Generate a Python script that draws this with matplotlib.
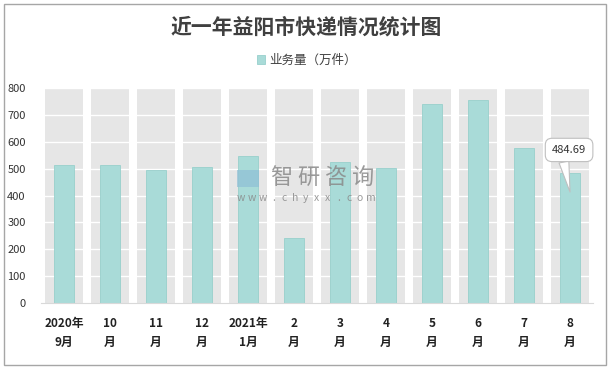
import matplotlib.pyplot as plt
from matplotlib.patches import Rectangle

plt.rcParams['font.family'] = ['Noto Sans CJK SC', 'DejaVu Sans']

months = ['2020年\n9月', '10\n月', '11\n月', '12\n月', '2021年\n1月', '2\n月',
          '3\n月', '4\n月', '5\n月', '6\n月', '7\n月', '8\n月']
volume = [515, 515, 496, 507, 547, 242, 524, 502, 740, 758, 577, 484.69]
y_ticks = [0, 100, 200, 300, 400, 500, 600, 700, 800]

fig = plt.figure(figsize=(6.13, 3.71), dpi=100)
ax = fig.add_axes([41 / 613, 68.3 / 371, 552 / 613, 214.4 / 371])

x = range(len(months))
# gray background columns
ax.bar(x, [800] * len(months), width=0.83, color='#e6e6e6', zorder=1)
for t in y_ticks[1:]:
    ax.axhline(t, color='white', lw=1, zorder=2)
bars = ax.bar(x, volume, width=0.43, color='#a9dbd8', edgecolor='#98d0cc',
              lw=0.6, zorder=3, label='业务量（万件）')

ax.set_xlim(-0.5, len(months) - 0.5)
ax.set_ylim(0, 800)
ax.set_yticks(y_ticks)
ax.set_xticks(list(x))
ax.set_xticklabels(months, fontsize=8.5, fontweight='bold', color='#222222',
                   linespacing=1.6)
ax.tick_params(axis='both', length=0)
ax.tick_params(axis='y', labelsize=8, labelcolor='#333333', pad=11)
ax.tick_params(axis='x', pad=10)
for s in ['top', 'right', 'left']:
    ax.spines[s].set_visible(False)
ax.spines['bottom'].set_color('#d9d9d9')
ax.spines['bottom'].set_zorder(4)

# callout for last value
ax.annotate(f'{volume[-1]:.2f}', xy=(11.0, 413), xytext=(10.98, 570),
            ha='center', va='center', fontsize=8, color='#333333', zorder=6,
            bbox=dict(boxstyle='round,pad=0.6', fc='white', ec='#bfbfbf', lw=0.8),
            arrowprops=dict(arrowstyle='wedge,tail_width=0.9', fc='white',
                            ec='#bfbfbf', lw=0.8, relpos=(0.3, 0.15),
                            shrinkA=0, shrinkB=0))

# watermark
for i, ch in enumerate('智研咨询'):
    fig.text((268 + 13.5 + i * 27.3) / 613, 0.5216, ch, fontsize=16,
             color='#8a8a8a', alpha=0.85, ha='center', va='center')
for i, ch in enumerate('www.chyxx.com'):
    fig.text((241 + i * 10.8) / 613, 0.466, ch, fontsize=7.5, color='#8a8a8a',
             alpha=0.85, ha='center', va='center')
fig.patches.append(Rectangle((237 / 613, 184 / 371), 22 / 613, 17 / 371,
                             transform=fig.transFigure, fc='#8fbfd6',
                             alpha=0.7, ec='none'))

fig.text(0.5, 0.928, '近一年益阳市快递情况统计图', fontsize=15, fontweight='bold',
         color='#404040', ha='center', va='center')
fig.legend(loc='center', bbox_to_anchor=(0.5, 0.838), frameon=False, fontsize=9,
           handlelength=0.7, handleheight=0.7, handletextpad=0.3,
           labelcolor='#404040')

fig.patches.append(Rectangle((4 / 613, 6 / 371), 602 / 613, 361 / 371,
                             transform=fig.transFigure, fill=False,
                             ec='#a6a6a6', lw=1))

fig.savefig('out.png', dpi=100)
